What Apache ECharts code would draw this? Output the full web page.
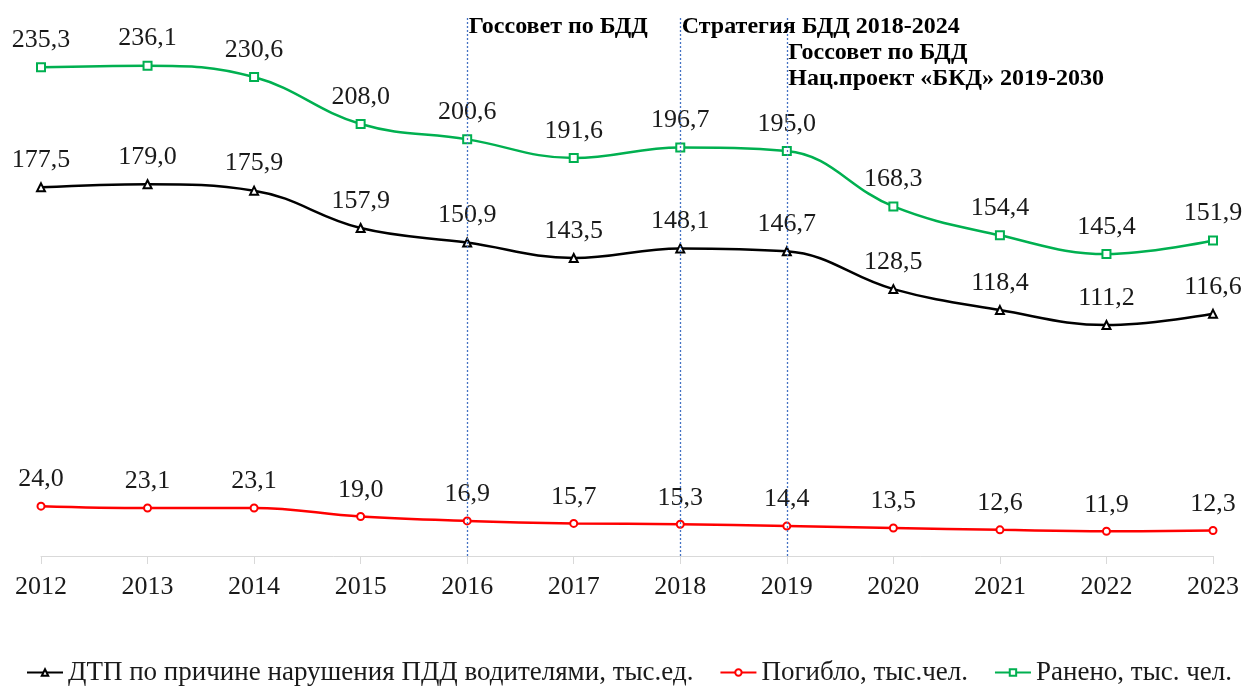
<!DOCTYPE html>
<html>
<head>
<meta charset="utf-8">
<script src="https://cdn.jsdelivr.net/npm/echarts@6/dist/echarts.min.js"></script>
<style>
  html, body { margin: 0; padding: 0; background: #fff; }
  #main { width: 1246px; height: 691px; }
</style>
</head>
<body>
<div id="main"></div>
<script>
// данные графика
var years = ['2012', '2013', '2014', '2015', '2016', '2017', '2018', '2019', '2020', '2021', '2022', '2023'];
var dtp = [177.5, 179.0, 175.9, 157.9, 150.9, 143.5, 148.1, 146.7, 128.5, 118.4, 111.2, 116.6];
var killed = [24.0, 23.1, 23.1, 19.0, 16.9, 15.7, 15.3, 14.4, 13.5, 12.6, 11.9, 12.3];
var injured = [235.3, 236.1, 230.6, 208.0, 200.6, 191.6, 196.7, 195.0, 168.3, 154.4, 145.4, 151.9];
var markYears = ['2016', '2018', '2019'];
var notes = [
    { year: '2016', level: 255, text: 'Госсовет по БДД' },
    { year: '2018', level: 255, text: 'Стратегия БДД 2018-2024' },
    { year: '2019', level: 236, text: 'Госсовет по БДД\nНац.проект «БКД» 2019-2030' }
];

var font = '"Liberation Serif", "Times New Roman", serif';

function fmt(p) {
    return p.value.toFixed(1).replace('.', ',');
}

var myChart = echarts.init(document.getElementById('main'));

var labelStyle = {
    show: true,
    position: 'top',
    distance: 9,
    formatter: fmt,
    fontFamily: font,
    fontSize: 26,
    color: '#1a1a1a'
};

var option = {
    animation: false,
    textStyle: { fontFamily: font },
    grid: { left: 41, right: 33, top: 16, bottom: 135 },
    legend: {
        bottom: 5,
        left: 26,
        width: 1220,
        padding: 0,
        itemWidth: 36,
        itemHeight: 8,
        itemGap: 26,
        textStyle: { fontFamily: font, fontSize: 27, color: '#1a1a1a' },
        data: ['ДТП по причине нарушения ПДД водителями, тыс.ед.', 'Погибло, тыс.чел.', 'Ранено, тыс. чел.']
    },
    xAxis: {
        type: 'category',
        data: years,
        boundaryGap: false,
        axisLine: { lineStyle: { color: '#d9d9d9', width: 1 } },
        axisTick: { show: true, length: 8, lineStyle: { color: '#d9d9d9' } },
        axisLabel: { fontFamily: font, fontSize: 26, color: '#1a1a1a', margin: 18 }
    },
    yAxis: {
        type: 'value',
        min: 0,
        max: 260,
        show: false,
        splitLine: { show: false }
    },
    series: [
        {
            name: 'ДТП по причине нарушения ПДД водителями, тыс.ед.',
            type: 'line',
            data: dtp,
            smooth: 0.4,
            symbol: 'emptyTriangle',
            symbolSize: 8,
            lineStyle: { color: '#000', width: 2.5 },
            itemStyle: { color: '#000', borderWidth: 1.5 },
            label: labelStyle,
            markLine: {
                silent: true,
                symbol: 'none',
                label: { show: false },
                lineStyle: { color: '#4472c4', type: [2, 2], width: 1.3 },
                data: markYears.map(function (y) { return { xAxis: y }; })
            }
        },
        {
            name: 'Погибло, тыс.чел.',
            type: 'line',
            data: killed,
            smooth: 0.4,
            symbol: 'emptyCircle',
            symbolSize: 7,
            lineStyle: { color: '#ff0000', width: 2.5 },
            itemStyle: { color: '#ff0000', borderWidth: 2 },
            label: labelStyle
        },
        {
            name: 'Ранено, тыс. чел.',
            type: 'line',
            data: injured,
            smooth: 0.4,
            symbol: 'emptyRect',
            symbolSize: 8,
            lineStyle: { color: '#00b050', width: 2.5 },
            itemStyle: { color: '#00b050', borderWidth: 1.5 },
            label: labelStyle,
            markPoint: {
                silent: true,
                symbol: 'rect',
                symbolSize: 1,
                itemStyle: { color: 'rgba(0,0,0,0)' },
                label: {
                    show: true,
                    position: 'right',
                    distance: 1,
                    fontFamily: font,
                    fontSize: 24,
                    fontWeight: 'bold',
                    lineHeight: 26,
                    color: '#000',
                    formatter: function (p) { return p.data.text; }
                },
                data: notes.map(function (n) {
                    return { coord: [n.year, n.level], text: n.text };
                })
            }
        }
    ]
};

myChart.setOption(option);
</script>
</body>
</html>
